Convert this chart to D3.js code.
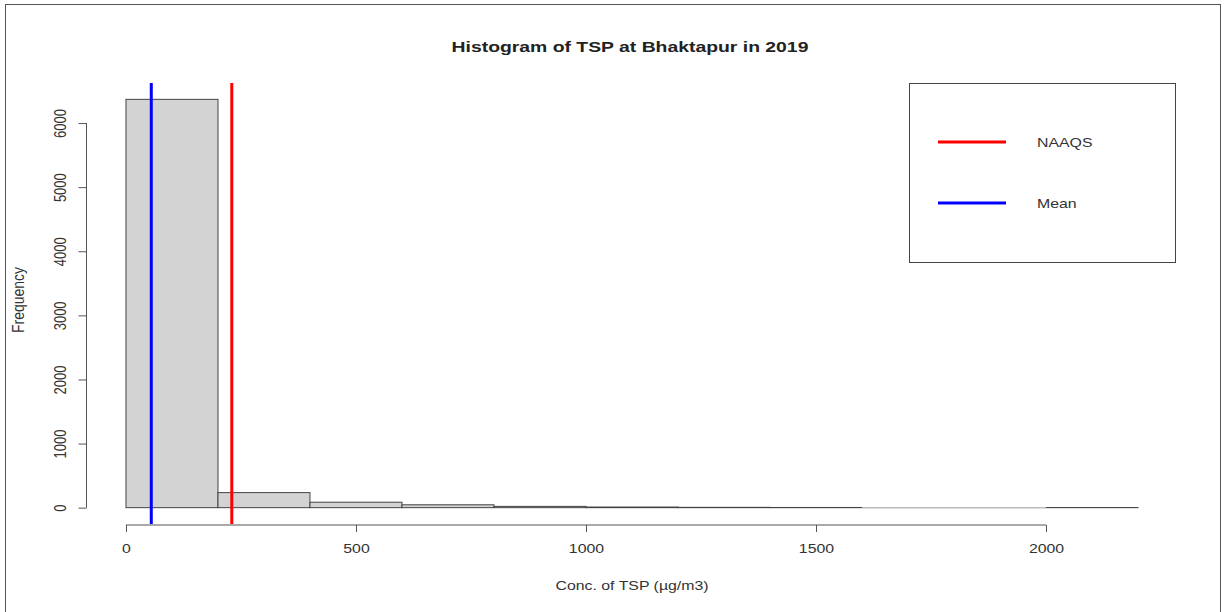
<!DOCTYPE html>
<html>
<head>
<meta charset="utf-8">
<script src="https://cdn.jsdelivr.net/npm/d3@7"></script>
<style>
  html, body { margin: 0; padding: 0; background: #fff; }
  svg { display: block; font-family: "Liberation Sans", Arial, sans-serif; }
</style>
</head>
<body>
<svg id="chart" width="1226" height="612"></svg>
<script>
// ---- data ----
const binEdges = [0, 200, 400, 600, 800, 1000, 1200, 1400, 1600, 1800, 2000, 2200];
const binCounts = [6370, 235, 85, 45, 20, 10, 5, 3, 0, 0, 2];
const xTicks = [0, 500, 1000, 1500, 2000];
const yTicks = [0, 1000, 2000, 3000, 4000, 5000, 6000];
const refNames = ["NAAQS", "Mean"];
const refValues = [230, 55];
const refColors = ["#ff0000", "#0000ff"];
const titleText = "Histogram of TSP at Bhaktapur in 2019";
const xLabel = "Conc. of TSP (\u00b5g/m3)";
const yLabel = "Frequency";

// ---- layout ----
const svg = d3.select("#chart");
const plot = { left: 85.5, right: 1178.5, top: 83, bottom: 524 };
const SX = 1.22; // horizontal stretch of the original picture's text

// R-style 4% range extension
const xMin = binEdges[0], xMax = binEdges[binEdges.length - 1];
const xPad = (xMax - xMin) * 0.04;
const x = d3.scaleLinear().domain([xMin - xPad, xMax + xPad]).range([plot.left, plot.right]);
const yMax = d3.max(binCounts);
const yPad = yMax * 0.04;
const y = d3.scaleLinear().domain([-yPad, yMax + yPad]).range([plot.bottom, plot.top]);

// outer frame
svg.append("rect").attr("x", 5.5).attr("y", 4.5).attr("width", 1215).attr("height", 612)
  .attr("fill", "none").attr("stroke", "#555").attr("stroke-width", 1);

// bars
const bins = binCounts.map((c, i) => ({ x0: binEdges[i], x1: binEdges[i + 1], c }));
svg.append("g").selectAll("rect").data(bins.filter(d => d.c > 0)).join("rect")
  .attr("x", d => x(d.x0))
  .attr("width", d => x(d.x1) - x(d.x0))
  .attr("y", d => y(d.c))
  .attr("height", d => Math.max(0, y(0) - y(d.c)))
  .attr("fill", "#d3d3d3")
  .attr("stroke", "#444")
  .attr("stroke-width", 1);
// empty bins: zero-height outline
svg.append("g").selectAll("line").data(bins.filter(d => d.c === 0)).join("line")
  .attr("x1", d => x(d.x0)).attr("x2", d => x(d.x1))
  .attr("y1", y(0)).attr("y2", y(0))
  .attr("stroke", "#bbb").attr("stroke-width", 1.5);

// reference lines
svg.append("g").selectAll("line").data(refValues).join("line")
  .attr("x1", d => x(d)).attr("x2", d => x(d))
  .attr("y1", plot.top).attr("y2", plot.bottom)
  .attr("stroke", (d, i) => refColors[i]).attr("stroke-width", 3);

// x axis
const gx = svg.append("g").attr("transform", `translate(0,${plot.bottom + 1})`)
  .call(d3.axisBottom(x).tickValues(xTicks).tickFormat(d3.format("d"))
    .tickSize(7).tickSizeOuter(0).tickPadding(12));
gx.select(".domain").remove();
gx.append("line").attr("x1", x(xTicks[0])).attr("x2", x(xTicks[xTicks.length - 1]))
  .attr("stroke", "#555");
gx.selectAll(".tick line").attr("stroke", "#555");
gx.selectAll(".tick text").attr("font-size", 13).attr("fill", "#333")
  .attr("font-family", "Liberation Sans, Arial, sans-serif")
  .attr("transform", `scale(${SX},1)`);

// y axis
const gy = svg.append("g").attr("transform", `translate(${plot.left + 1},0)`)
  .call(d3.axisLeft(y).tickValues(yTicks).tickFormat(d3.format("d"))
    .tickSize(8).tickSizeOuter(0).tickPadding(6));
gy.select(".domain").remove();
gy.append("line").attr("y1", y(yTicks[0])).attr("y2", y(yTicks[yTicks.length - 1]))
  .attr("stroke", "#555");
gy.selectAll(".tick line").attr("stroke", "#555");
gy.selectAll(".tick text").attr("font-size", 13).attr("fill", "#333")
  .attr("font-family", "Liberation Sans, Arial, sans-serif")
  .attr("text-anchor", "middle")
  .attr("transform", `scale(${SX},1) rotate(-90)`)
  .attr("x", 0).attr("dy", 0)
  .attr("y", -17);

// title & labels
svg.append("text").attr("transform", `translate(630,52) scale(1.25,1)`).attr("text-anchor", "middle")
  .attr("font-size", 15.5).attr("font-weight", "bold").attr("fill", "#222").text(titleText);
svg.append("text").attr("transform", `translate(632,590) scale(${SX},1)`).attr("text-anchor", "middle")
  .attr("font-size", 13).attr("fill", "#333").text(xLabel);
svg.append("text").attr("transform", `translate(24,300) scale(${SX},1) rotate(-90)`).attr("text-anchor", "middle")
  .attr("font-size", 14).attr("fill", "#333").text(yLabel);

// legend
const lg = svg.append("g");
lg.append("rect").attr("x", 909.5).attr("y", 83.5).attr("width", 266).attr("height", 179)
  .attr("fill", "#fff").attr("stroke", "#444");
const rows = refNames.map((n, i) => ({ n, c: refColors[i], yy: 142 + i * 61 }));
lg.selectAll("line").data(rows).join("line")
  .attr("x1", 938).attr("x2", 1006).attr("y1", d => d.yy).attr("y2", d => d.yy)
  .attr("stroke", d => d.c).attr("stroke-width", 3);
lg.selectAll("text").data(rows).join("text")
  .attr("transform", d => `translate(1037,${d.yy + 5}) scale(${SX},1)`)
  .attr("font-size", 13).attr("fill", "#333").text(d => d.n);
</script>
</body>
</html>
